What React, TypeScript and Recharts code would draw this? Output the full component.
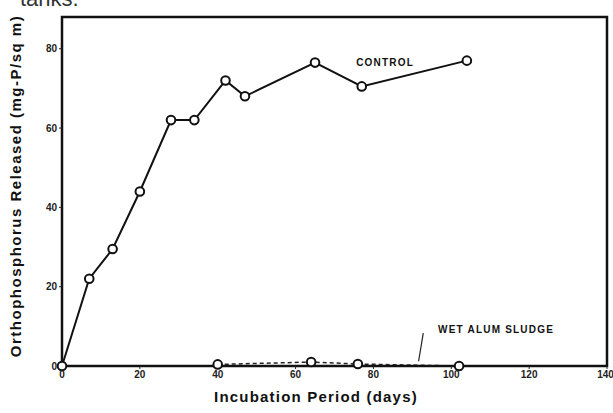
import React from 'react';
import {
  LineChart, Line, XAxis, YAxis, ReferenceDot, ReferenceLine, ReferenceArea, Label,
} from 'recharts';

// Orthophosphorus release
const controlDays = [0, 7, 13, 20, 28, 34, 42, 47, 65, 77, 104];
const controlValues = [0, 22, 29.5, 44, 62, 62, 72, 68, 76.5, 70.5, 77];
const sludgeDays = [40, 64, 76, 102];
const sludgeValues = [0.4, 1, 0.5, 0];
const xTicks = [0, 20, 40, 60, 80, 100, 120, 140];
const yTicks = [0, 20, 40, 60, 80];

const controlData = controlDays.map((d, i) => ({ day: d, value: controlValues[i] }));
const sludgeData = sludgeDays.map((d, i) => ({ day: d, value: sludgeValues[i] }));

const font = '"Liberation Sans", Arial, sans-serif';
const tickStyle = { fontSize: 10, fontWeight: 700, fill: '#222', fontFamily: font };
const frame = { stroke: '#111', strokeWidth: 2 };
const noteStyle = { fontSize: 10, fontWeight: 700, fill: '#111', fontFamily: font, letterSpacing: 1.2 };

const Marker = (props: any) => {
  const { cx, cy } = props;
  if (cx == null || cy == null) return null;
  return <circle cx={cx} cy={cy} r={4.3} fill="#fff" stroke="#111" strokeWidth={2} />;
};

export default function App() {
  return (
    <div style={{ position: 'absolute', left: 0, top: 0, width: 613, height: 413, background: '#fff', overflow: 'hidden', fontFamily: font }}>
      <div style={{ position: 'absolute', left: 20, top: -14, fontSize: 22, color: '#333', fontFamily: font }}>tanks.</div>
      <div style={{
        position: 'absolute', left: 15, top: 186, width: 400, marginLeft: -200, textAlign: 'center',
        transform: 'translateY(-50%) rotate(-90deg)', fontSize: 15, fontWeight: 700, color: '#111', letterSpacing: 1.5, whiteSpace: 'nowrap',
      }}>
        Orthophosphorus Released (mg-P/sq m)
      </div>
      <div style={{
        position: 'absolute', left: 316, top: 388, width: 300, marginLeft: -150, textAlign: 'center',
        fontSize: 15, fontWeight: 700, color: '#111', letterSpacing: 1.2, whiteSpace: 'nowrap',
      }}>
        Incubation Period (days)
      </div>
      <LineChart width={613} height={413} data={controlData} margin={{ top: 17, right: 6, bottom: 17, left: 22 }}>
        <XAxis
          dataKey="day" type="number" domain={[0, 140]} ticks={xTicks}
          axisLine={frame} tickLine={{ stroke: '#222' }} tickSize={3}
          tick={tickStyle} height={30}
        />
        <YAxis
          type="number" domain={[0, 88]} ticks={yTicks}
          axisLine={frame} tickLine={{ stroke: '#222' }} tickSize={3}
          tick={tickStyle} width={40}
        />
        {/* plot frame */}
        <ReferenceArea x1={0} x2={140} y1={0} y2={88} fill="#fff" fillOpacity={0} stroke="#111" strokeWidth={2.5} ifOverflow="extendDomain" />
        <Line
          type="linear" dataKey="value" stroke="#111" strokeWidth={2}
          dot={<Marker />} activeDot={false} isAnimationActive={false}
        />
        <Line
          data={sludgeData} type="linear" dataKey="value" stroke="#222" strokeWidth={1.5}
          strokeDasharray="4 3" dot={<Marker />} activeDot={false} isAnimationActive={false}
        />
        <ReferenceLine segment={[{ x: 92.8, y: 8.3 }, { x: 91.6, y: 1.2 }]} stroke="#222" strokeWidth={1.2} />
        <ReferenceDot x={83} y={76.5} r={0} fill="none" stroke="none">
          <Label value="CONTROL" position="center" style={noteStyle} />
        </ReferenceDot>
        <ReferenceDot x={111.5} y={9.3} r={0} fill="none" stroke="none">
          <Label value="WET ALUM SLUDGE" position="center" style={noteStyle} />
        </ReferenceDot>
      </LineChart>
    </div>
  );
}
